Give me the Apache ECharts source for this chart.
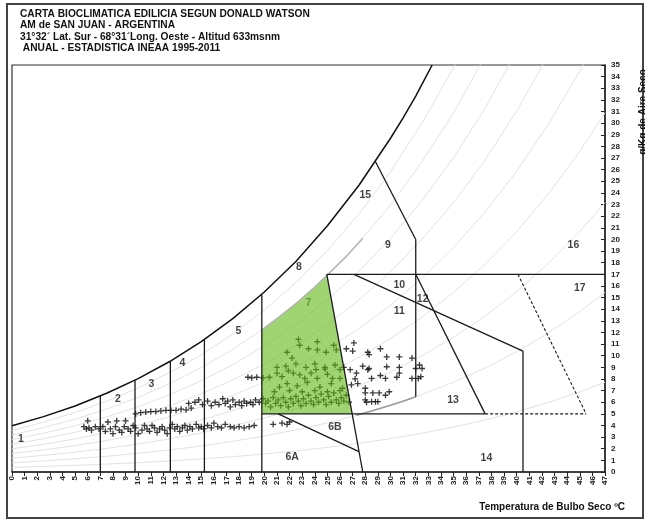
<!DOCTYPE html>
<html><head><meta charset="utf-8">
<script src="https://cdn.jsdelivr.net/npm/echarts@6/dist/echarts.min.js"></script>
<style>html,body{margin:0;padding:0;background:#fff}#c{width:645px;height:522px}</style>
</head><body><div id="c"></div>
<script>
// ---------- DATA ----------
const titleLines = ['CARTA BIOCLIMATICA EDILICIA SEGUN DONALD WATSON','AM de SAN JUAN - ARGENTINA','31°32´ Lat. Sur - 68°31´Long. Oeste - Altitud 633msnm',' ANUAL - ESTADISTICA INEAA 1995-2011'];
const xName = 'Temperatura de Bulbo Seco ºC';
const yName = 'g/Kg de Aire Seco';

// temperatures for the relative humidity curves
const temps = [0,2.5,5,7.5,10,12.5,15,17.5,20,22.5,25,27.5,30,32.5,35,37.5,40,42.5,45,47];
const rh90 = [3.57,4.28,5.11,6.09,7.23,8.55,10.09,11.87,13.93,16.29,19.05,22.19,25.83,30.02,34.77,40.23,46.5,53.8,62.0,69.5];
const rh80 = [3.18,3.81,4.54,5.42,6.42,7.60,8.97,10.55,12.38,14.48,16.94,19.73,22.96,26.69,30.90,35.76,41.37,47.8,55.2,61.8];
const rh70 = [2.78,3.33,3.98,4.74,5.62,6.65,7.85,9.23,10.84,12.67,14.82,17.26,20.09,23.35,27.04,31.29,36.20,41.8,48.3,54.0];
const rh60 = [2.38,2.86,3.41,4.06,4.82,5.70,6.73,7.91,9.29,10.86,12.70,14.80,17.22,20.02,23.18,26.82,31.03,35.85,41.4,46.3];
const rh50 = [1.99,2.38,2.84,3.39,4.02,4.75,5.61,6.60,7.74,9.05,10.59,12.33,14.35,16.68,19.32,22.35,25.86,29.88,34.47,38.60];
const rh40 = [1.59,1.90,2.27,2.71,3.21,3.80,4.48,5.28,6.19,7.24,8.47,9.86,11.48,13.34,15.45,17.88,20.68,23.90,27.58,30.88];
const rh30 = [1.19,1.43,1.70,2.03,2.41,2.85,3.36,3.96,4.64,5.43,6.35,7.40,8.61,10.01,11.59,13.41,15.51,17.93,20.68,23.16];
const rh20 = [0.79,0.95,1.14,1.35,1.61,1.90,2.24,2.64,3.10,3.62,4.23,4.93,5.74,6.67,7.73,8.94,10.34,11.95,13.79,15.44];
const rh10 = [0.40,0.48,0.57,0.68,0.80,0.95,1.12,1.32,1.55,1.81,2.12,2.47,2.87,3.34,3.86,4.47,5.17,5.98,6.89,7.72];

// saturation curve (100 %)
const saturation = [[0,3.97],[2.5,4.76],[5,5.68],[7.5,6.77],[10,8.03],[12.5,9.50],[15,11.21],[17.5,13.19],[20,15.48],[22.5,18.10],[25,21.17],[27.5,24.66],[30,28.70],[31,30.46],[32,32.33],[32.5,33.36],[33.3,35]];

// zone boundaries
const line7    = [[7,0],[7,6.54]];
const line975  = [[9.75,0],[9.75,7.90]];
const line1255 = [[12.55,0],[12.55,9.55]];
const line1525 = [[15.25,0],[15.25,11.38]];
const line198  = [[19.8,0],[19.8,15.27]];
const diag7    = [[24.95,17],[27.8,0]];
const h5       = [[19.8,5],[37.5,5]];
const h5dash   = [[37.5,5],[45.5,5]];
const diagDash = [[40.1,17],[45.5,5]];
const h17      = [[24.95,17],[47,17]];
const line6B   = [[21.1,5],[27.5,1.75]];
const v32      = [[32,6.47],[32,20]];
const line15   = [[28.8,26.7],[32,20]];
const line10   = [[27.1,17],[40.5,10.4]];
const v405     = [[40.5,10.4],[40.5,0]];
const line13   = [[32,17],[37.5,5]];
const grey20   = [[27.3,4.88],[28.5,5.24],[30,5.74],[31,6.09],[32,6.47]];
const grey80   = [[19.8,12.22],[21,13.19],[22.5,14.48],[24,15.91],[25,16.94],[26.5,18.54],[27.8,20.1]];

// comfort zone 7 (green)
const greenZone = [[19.8,5],[19.8,12.22],[21,13.19],[22.5,14.48],[24,15.91],[24.95,17],[26.96,5]];

// zone labels
const zoneLabels = [
  ['1',0.7,2.8],['2',8.4,6.3],['3',11.05,7.6],['4',13.5,9.4],['5',17.95,12.1],['6A',22.2,1.25],['6B',25.6,3.9],
  ['7',23.5,14.5],['8',22.75,17.6],['9',29.8,19.5],['10',30.7,16.1],['11',30.7,13.8],['12',32.55,14.9],
  ['13',34.95,6.15],['14',37.6,1.2],['15',28.0,23.8],['16',44.5,19.5],['17',45.0,15.85]
];

// hourly climate points (dry bulb °C, g/kg)
const climatePoints = [
 [5.7,3.9],[5.9,3.7],[6.1,3.8],[6.3,3.6],[6.0,4.4],[6.6,3.9],[6.9,3.7],[7.2,3.9],[7.4,3.5],[7.6,4.3],[7.8,3.7],[8.0,3.3],[8.2,3.9],[8.3,4.4],[8.5,3.6],[8.7,3.4],[8.9,3.9],[9.0,4.4],[9.2,3.7],[9.4,3.5],[9.6,4.0],[9.8,3.8],[10.0,3.3],[10.3,3.6],[10.5,4.0],[10.7,3.7],[10.9,3.5],[11.1,4.0],[11.3,3.8],[11.5,3.4],[11.7,3.7],[11.9,3.9],[12.1,3.6],[12.3,3.3],[12.5,3.8],[12.7,4.1],[12.9,3.7],[13.1,3.9],[13.3,3.5],[13.5,3.8],[13.7,4.0],[13.9,3.6],[14.1,3.9],[14.3,3.7],[14.6,4.1],[14.8,3.8],[15.0,3.9],[15.2,3.7],[15.5,4.0],[15.8,3.8],[16.0,4.2],[16.3,3.9],[16.6,3.8],[16.9,4.1],[17.3,3.9],[17.6,3.8],[18.0,3.9],[18.4,3.8],[18.8,3.9],[19.2,4.0],[20.7,4.1],[21.4,4.2],[21.8,4.1],[22.0,4.3],
 [9.8,5.0],[10.2,5.1],[10.6,5.15],[11.0,5.2],[11.4,5.2],[11.8,5.25],[12.2,5.3],[12.6,5.3],[13.0,5.3],[13.4,5.4],[13.8,5.35],[14.0,5.9],[14.2,5.5],[14.5,6.0],[14.8,6.2],[15.1,5.8],[15.5,6.1],[15.8,5.7],[16.1,6.0],[16.4,5.8],[16.7,6.3],[16.9,5.9],[17.1,6.1],[17.3,5.6],[17.5,6.2],[17.7,5.8],[18.0,6.0],[18.2,5.7],[18.4,6.1],[18.6,5.9],[18.9,6.0],[19.1,5.8],[19.3,6.2],[19.6,6.0],[19.9,6.3],[20.1,5.9],[20.3,6.1],[20.5,5.6],[20.7,6.4],[20.9,5.9],[21.1,6.2],[21.3,5.7],[21.5,6.4],[21.7,6.0],[21.9,5.6],[22.1,6.3],[22.3,5.9],[22.5,6.5],[22.7,6.1],[22.9,5.7],[23.1,6.3],[23.3,5.9],[23.5,6.6],[23.7,6.1],[23.9,5.8],[24.1,6.4],[24.3,6.0],[24.5,6.7],[24.7,6.2],[24.9,5.8],[25.1,6.5],[25.3,6.0],[25.5,6.8],[25.7,6.2],[25.9,5.9],[26.1,6.4],[26.3,6.1],[26.5,6.6],[26.7,6.0],
 [18.7,8.15],[19.0,8.1],[19.4,8.15],[19.9,8.1],[20.4,8.15],[21.0,8.5],[21.4,8.2],[21.9,8.7],[22.3,8.5],[22.8,8.35],[23.2,8.05],[23.7,8.5],[24.1,8.8],[24.2,8.05],[24.8,8.85],[25.0,8.4],[25.4,8.05],[26.0,8.8],[26.0,8.05],[26.8,8.8],[27.2,8.0],[27.3,8.5],[28.2,8.8],[28.5,8.05],[29.2,8.3],[29.6,8.05],[30.5,8.15],[30.7,8.5],[31.7,8.05],[32.2,8.05],[32.4,8.2],
 [21.2,7.3],[21.8,7.6],[22.6,7.4],[23.4,7.7],[24.4,7.3],[25.3,7.6],[26.2,7.2],[26.9,7.5],[27.4,7.6],[28.0,7.2],[20.8,6.9],[22.0,7.0],[23.0,6.9],[24.0,7.0],[25.0,6.9],[26.0,7.0],
 [28.0,6.8],[28.6,6.8],[29.1,6.8],[29.6,6.6],[29.9,6.9],[28.0,6.2],[28.1,6.0],[28.5,6.05],[28.8,6.05],[29.0,6.05],
 [21.8,10.3],[22.2,9.8],[22.7,11.4],[22.8,10.9],[23.5,10.6],[24.2,11.2],[24.2,10.5],[24.9,10.3],[25.5,10.9],[25.7,10.5],[26.5,10.6],[27.0,10.4],[27.1,11.1],[28.2,10.3],[28.3,10.1],[29.2,10.6],[29.7,9.9],[30.7,9.9],[31.7,9.8],[32.3,9.2],[32.5,8.9],[32.0,8.9],[30.7,9.0],[29.7,9.05],[28.3,8.9],[27.8,9.1],[21.0,9.0],[21.7,9.1],[22.5,9.3],[23.3,9.0],[24.0,9.3],[24.8,9.0],[25.6,9.2],[26.3,9.0]
];

// ---------- CHART ----------
const FONT = '"Liberation Sans", Arial, sans-serif';
const chart = echarts.init(document.getElementById('c'), null, {renderer:'canvas'});

function lineSeries(data, color, width, type, z){
  return {type:'line', data:data, symbol:'none', silent:true, animation:false, z:z||4,
    lineStyle:{color:color, width:width, type:type||'solid'}};
}
const rhSets = [rh10,rh20,rh30,rh40,rh50,rh60,rh70,rh80,rh90];
const series = [];
rhSets.forEach(arr=>{
  series.push({type:'line', data: temps.map((t,i)=>[t,arr[i]]), symbol:'none', silent:true, animation:false, z:1,
    lineStyle:{color:'#e2e2e2', width:1}});
});
series.push({type:'scatter', data:climatePoints, z:2, animation:false, silent:true,
  symbol:'path://M2.35,0H3.65V6H2.35ZM0,2.35H6V3.65H0Z', symbolSize:6, itemStyle:{color:'#0a0a0a'}});
series.push({type:'custom', z:3, animation:false, silent:true, data:[0],
  renderItem:function(params, api){
    return {type:'polygon', shape:{points: greenZone.map(p=>api.coord(p))},
      style:{fill:'rgba(97,183,22,0.6)', stroke:null}};
  }});
series.push(lineSeries(grey80,'#b4b4b4',1.5,'solid',3));
series.push(lineSeries(grey20,'#9a9a9a',1.5,'solid',3));
series.push(lineSeries(saturation,'#111',1.5));
[line7,line975,line1255,line1525,line198,diag7,h5,h17,line6B,v32,line15,line10,v405,line13].forEach(d=>{
  series.push(lineSeries(d,'#1a1a1a',1.3));
});
series.push(lineSeries(h5dash,'#1a1a1a',1.1,[3,2]));
series.push(lineSeries(diagDash,'#1a1a1a',1.1,[3,2]));
series.push({type:'scatter', z:6, animation:false, silent:true, symbolSize:1, itemStyle:{color:'rgba(0,0,0,0)'},
  data: zoneLabels.map(l=>({name:l[0], value:[l[1],l[2]],
    label:{color: l[0]==='7' ? '#4f8f2f' : '#111'}})),
  label:{show:true, position:'inside', formatter:'{b}', fontSize:10.5, fontWeight:'bold', fontFamily:FONT}});

const graphics = [
  {type:'rect', shape:{x:7,y:4,width:636,height:514}, style:{fill:null, stroke:'#444', lineWidth:2}, silent:true, z:0},
  {type:'text', x:625, y:507, style:{text:xName, font:'bold 10px '+FONT, fill:'#111', align:'right', verticalAlign:'middle'}},
  {type:'text', x:643, y:112, rotation:Math.PI/2, style:{text:yName, font:'bold 10px '+FONT, fill:'#111', align:'center', verticalAlign:'middle'}}
];
const titleY = [14,25.5,37,48.5];
titleLines.forEach((t,i)=>{
  graphics.push({type:'text', x:20, y:titleY[i], style:{text:t, font:'bold 10.2px '+FONT, fill:'#111', align:'left', verticalAlign:'middle'}});
});

chart.setOption({
  animation:false,
  backgroundColor:'#fff',
  grid:{left:12, right:40, top:65, bottom:50, show:true, borderColor:'#333', borderWidth:1.2},
  xAxis:{type:'value', min:0, max:47, interval:1,
    axisLine:{show:true, onZero:false, lineStyle:{color:'#222', width:1.5}},
    axisTick:{show:true, length:4, lineStyle:{color:'#222'}},
    axisLabel:{rotate:90, fontSize:8, fontWeight:'bold', color:'#222', margin:4, fontFamily:FONT},
    splitLine:{show:false}},
  yAxis:{type:'value', position:'right', min:0, max:35, interval:1,
    axisLine:{show:true, onZero:false, lineStyle:{color:'#222', width:1.5}},
    axisTick:{show:true, inside:true, length:4, lineStyle:{color:'#222'}},
    axisLabel:{fontSize:8, fontWeight:'bold', color:'#222', margin:6, fontFamily:FONT},
    splitLine:{show:false}},
  graphic:graphics,
  series:series
});
</script></body></html>
